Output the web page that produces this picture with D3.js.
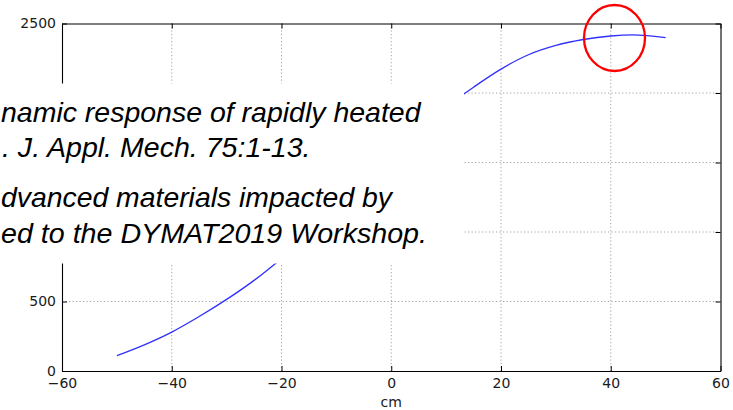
<!DOCTYPE html>
<html>
<head>
<meta charset="utf-8">
<script src="https://cdn.jsdelivr.net/npm/d3@7"></script>
<style>
html,body{margin:0;padding:0;background:#fff;}
svg{display:block;}
</style>
</head>
<body>
<svg id="chart" width="733" height="410"></svg>
<script>
const xTicks = [-60, -40, -20, 0, 20, 40, 60];
const yTicks = [0, 500, 1000, 1500, 2000, 2500];
const yTickLabelsShown = [0, 500, 2500];
const curveX = [-50, -45, -40, -35, -30, -25, -20, -15, -10, -5, 0, 5, 10, 15, 20, 25, 30, 35, 40, 45, 50];
const curveY = [110, 188, 280, 392, 515, 652, 810, 985, 1170, 1360, 1552, 1736, 1900, 2042, 2172, 2275, 2342, 2385, 2410, 2417, 2398];
const xLabel = "cm";
const noteLines = [
  "namic response of rapidly heated",
  ". J. Appl. Mech. 75:1-13.",
  "dvanced materials impacted by",
  "ed to the DYMAT2019 Workshop."
];

const svg = d3.select("#chart");
const m = {l: 62, r: 720.5, t: 23.5, b: 371};
const x = d3.scaleLinear().domain([-60, 60]).range([m.l, m.r]);
const y = d3.scaleLinear().domain([0, 2500]).range([m.b, m.t]);

// grid
const grid = svg.append("g").attr("stroke", "#8a8a8a").attr("stroke-width", 0.8).attr("stroke-dasharray", "1.2,2.3");
grid.selectAll("line.vx").data(xTicks.slice(1, -1)).join("line")
  .attr("x1", d => x(d)).attr("x2", d => x(d)).attr("y1", m.t).attr("y2", m.b);
grid.selectAll("line.hy").data(yTicks.slice(1, -1)).join("line")
  .attr("x1", m.l).attr("x2", m.r).attr("y1", d => y(d)).attr("y2", d => y(d));

// curve
const pts = curveX.map((d, i) => [d, curveY[i]]);
svg.append("path").datum(pts)
  .attr("fill", "none").attr("stroke", "#3030ff").attr("stroke-width", 1.3)
  .attr("d", d3.line().x(d => x(d[0])).y(d => y(d[1])).curve(d3.curveCatmullRom));

// axes (ticks inward, all sides)
const tl = 5;
const axB = svg.append("g").attr("transform", `translate(0,${m.b})`)
  .call(d3.axisBottom(x).tickValues(xTicks).tickSizeInner(-tl).tickSizeOuter(0).tickPadding(7)
    .tickFormat(d => d < 0 ? "\u2212" + Math.abs(d) : String(d)));
const axT = svg.append("g").attr("transform", `translate(0,${m.t})`)
  .call(d3.axisTop(x).tickValues(xTicks).tickSizeInner(-tl).tickSizeOuter(0).tickFormat(""));
const axL = svg.append("g").attr("transform", `translate(${m.l},0)`)
  .call(d3.axisLeft(y).tickValues(yTicks).tickSizeInner(-tl).tickSizeOuter(0).tickPadding(6)
    .tickFormat(d => yTickLabelsShown.includes(d) ? String(d) : ""));
const axR = svg.append("g").attr("transform", `translate(${m.r},0)`)
  .call(d3.axisRight(y).tickValues(yTicks).tickSizeInner(-tl).tickSizeOuter(0).tickFormat(""));
[axB, axT, axL, axR].forEach(a => {
  a.select(".domain").attr("stroke", "#000").attr("stroke-width", 1.1);
  a.selectAll(".tick line").attr("stroke", "#000").attr("stroke-width", 1);
  a.selectAll(".tick text").attr("fill", "#1a1a1a")
    .style("font-family", "'DejaVu Sans', sans-serif").style("font-size", "14px");
});
axB.selectAll(".tick text").attr("dy", "0.71em");

svg.append("text").attr("x", x(0)).attr("y", 407).attr("text-anchor", "middle")
  .attr("fill", "#1a1a1a").style("font-family", "'DejaVu Sans', sans-serif").style("font-size", "14px")
  .text(xLabel);

// white note box overlay
svg.append("rect").attr("x", 0).attr("y", 83.5).attr("width", 464).attr("height", 180).attr("fill", "#fff");
const baselines = [122, 157, 207, 242.5];
const starts = [1, 2, 1, 1];
const ends = [420.5, 310.5, 392, 427];
svg.append("g").selectAll("text").data(noteLines).join("text")
  .attr("x", (d, i) => starts[i]).attr("y", (d, i) => baselines[i]).attr("text-anchor", "start")
  .attr("textLength", (d, i) => ends[i] - starts[i]).attr("lengthAdjust", "spacingAndGlyphs")
  .attr("fill", "#000")
  .style("font-family", "'Liberation Sans', Arial, sans-serif").style("font-style", "italic").style("font-size", "28.5px")
  .text(d => d);

// red highlight circle
svg.append("ellipse").attr("cx", 614.5).attr("cy", 38).attr("rx", 30.5).attr("ry", 33)
  .attr("fill", "none").attr("stroke", "#f00").attr("stroke-width", 2.3);
</script>
</body>
</html>
